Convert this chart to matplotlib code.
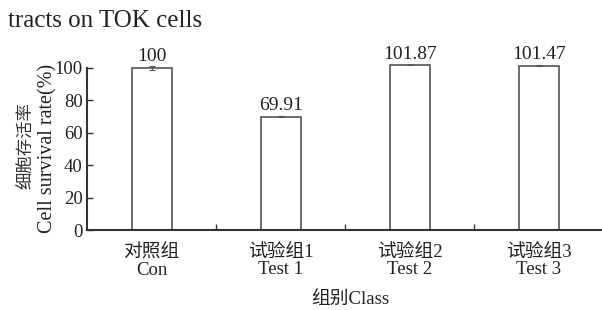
import matplotlib
matplotlib.use("Agg")
import matplotlib.pyplot as plt
import numpy as np

plt.rcParams['font.family'] = ['Liberation Serif', 'Noto Sans CJK SC']

categories = ["对照组\nCon", "试验组1\nTest 1", "试验组2\nTest 2", "试验组3\nTest 3"]
values = [100, 69.91, 101.87, 101.47]
errors = [1.0, 0.5, 0.3, 0.3]
value_labels = ["100", "69.91", "101.87", "101.47"]
yticks = [0, 20, 40, 60, 80, 100]

fig = plt.figure(figsize=(6.02, 3.10), dpi=100)
ax = fig.add_axes([0.1445, 0.258, 0.858, 0.523])

x = np.arange(len(categories))
edge = "#444444"
ax.bar(x, values, width=0.31, color="white", edgecolor=edge, linewidth=1.1, clip_on=False, zorder=2)
ax.errorbar(x, values, yerr=errors, fmt="none", ecolor="#555555", elinewidth=0.8, capsize=2.5, capthick=0.8, clip_on=False, zorder=3)

for xi, v, e, lab in zip(x, values, errors, value_labels):
    ax.annotate(lab, (xi, v + e), xytext=(0, 1.2), textcoords="offset points",
                ha="center", va="bottom", fontsize=14, color="#222222", annotation_clip=False)

ax.set_xlim(-0.5, 3.5)
ax.set_ylim(0, 100)
ax.set_yticks(yticks)
ax.set_yticklabels([str(t) for t in yticks], fontsize=13.5, color="#222222")
ax.tick_params(axis="y", direction="in", length=4, width=1, color="#333333", pad=3)

ax.set_xticks([0.5, 1.5, 2.5])
ax.set_xticklabels([])
ax.tick_params(axis="x", direction="in", length=4, width=1, color="#333333")
for xi, c in zip(x, categories):
    ax.text(xi, -8.5, c, ha="center", va="top", fontsize=13.5, color="#222222",
            linespacing=1.05, transform=ax.transData)

for s in ["top", "right"]:
    ax.spines[s].set_visible(False)
for s in ["left", "bottom"]:
    ax.spines[s].set_color("#333333")
    ax.spines[s].set_linewidth(1.5)

fig.text(0.5814, 0.032, "组别Class", ha="center", va="center", fontsize=13.5, color="#222222")
fig.text(0.045, 0.532, "细胞存活率", rotation=90, ha="center", va="center", fontsize=12.5, color="#333333")
fig.text(0.080, 0.52, "Cell survival rate(%)", rotation=90, ha="center", va="center", fontsize=14.5, color="#222222")
fig.text(0.013, 0.932, "tracts on TOK cells", ha="left", va="center", fontsize=18, color="#222222")

fig.savefig("out.png", dpi=100)
